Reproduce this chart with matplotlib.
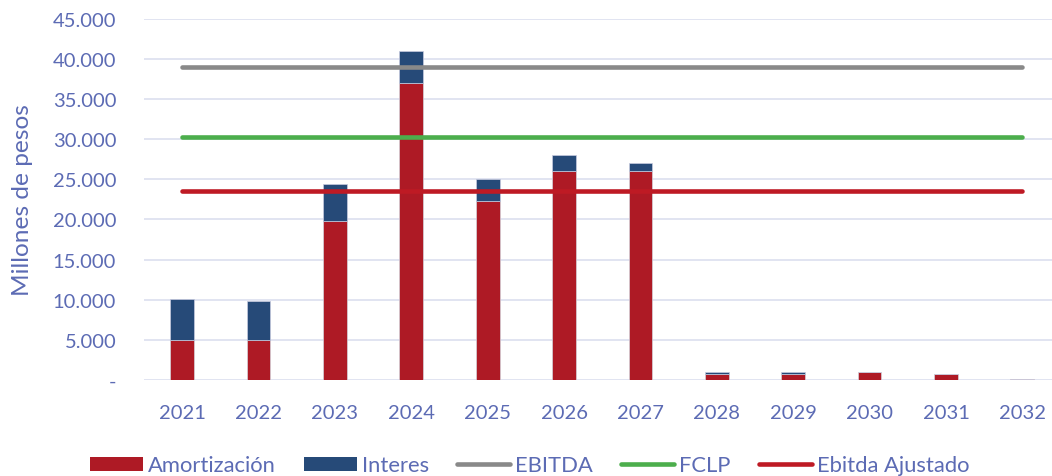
import matplotlib
matplotlib.use("Agg")
import matplotlib.pyplot as plt
from matplotlib.ticker import FuncFormatter, MultipleLocator
from matplotlib.patches import Patch
from matplotlib.lines import Line2D

years = ["2021", "2022", "2023", "2024", "2025", "2026", "2027", "2028", "2029", "2030", "2031", "2032"]
amortizacion = [5000, 5000, 19800, 37000, 22300, 26000, 26050, 780, 780, 960, 710, 150]
interes = [5050, 4850, 4550, 3950, 2720, 2020, 920, 170, 170, 0, 0, 0]
ebitda = [38950, 38950, 38950, 38950, 38950, 38950, 38950, 38950, 38950, 38950, 38950, 38950]
fclp = [30300, 30300, 30300, 30300, 30300, 30300, 30300, 30300, 30300, 30300, 30300, 30300]
ebitda_ajustado = [23480, 23480, 23480, 23480, 23480, 23480, 23480, 23480, 23480, 23480, 23480, 23480]

TXT = "#5C6BB4"
RED = "#AE1A25"
BLUE = "#264A78"
GRAY = "#898989"
GREEN = "#4CAE4C"
LRED = "#BE1A24"
FONT = "Lato"
FS = 14.5
LFS = 15.8

plt.rcParams["font.family"] = [FONT, "DejaVu Sans"]

fig = plt.figure(figsize=(10.52, 4.77), dpi=100)
ax = fig.add_axes([144 / 1052, 96 / 477, (1060.5 - 144) / 1052, (381 - 19.6) / 477])

x = list(range(len(years)))
bw = 0.31
ax.bar(x, amortizacion, width=bw, color=RED, edgecolor="#d4d4dc", linewidth=0.5, zorder=3)
ax.bar(x, interes, width=bw, bottom=amortizacion, color=BLUE, edgecolor="#c8cce0", linewidth=0.5, zorder=3)

lw = 3.3
ax.plot(x, ebitda, color=GRAY, lw=lw, solid_capstyle="round", zorder=4)
ax.plot(x, fclp, color=GREEN, lw=lw, solid_capstyle="round", zorder=4)
ax.plot(x, ebitda_ajustado, color=LRED, lw=lw, solid_capstyle="round", zorder=4)

ax.set_xlim(-0.5, len(years) - 0.5)
ax.set_ylim(0, 45000)
ax.yaxis.set_major_locator(MultipleLocator(5000))
ax.yaxis.set_major_formatter(FuncFormatter(lambda v, p: "-" if v == 0 else f"{int(v):,}".replace(",", ".")))
ax.set_xticks(x)
ax.set_xticklabels(years)
ax.grid(axis="y", color="#D9DCEE", lw=1.1, zorder=0)
ax.set_axisbelow(True)
for s in ax.spines.values():
    s.set_visible(False)
ax.tick_params(axis="both", length=0, colors=TXT, labelsize=FS)
ax.tick_params(axis="y", pad=20)
ax.tick_params(axis="x", pad=17.5)

fig.text(22.5 / 1052, 1 - 200 / 477, "Millones de pesos", rotation=90, ha="center", va="center",
         color=TXT, fontsize=17.6)

handles = [
    Patch(facecolor=RED, edgecolor="none"),
    Patch(facecolor=BLUE, edgecolor="none"),
    Line2D([0], [0], color=GRAY, lw=lw, solid_capstyle="round"),
    Line2D([0], [0], color=GREEN, lw=lw, solid_capstyle="round"),
    Line2D([0], [0], color=LRED, lw=lw, solid_capstyle="round"),
]
labels = ["Amortización", "Interes", "EBITDA", "FCLP", "Ebitda Ajustado"]
leg = fig.legend(handles, labels, loc="center", bbox_to_anchor=(529.5 / 1052, 10.5 / 477), ncol=5,
                 frameon=False, fontsize=LFS, handlelength=2.4, handleheight=0.64,
                 handletextpad=0.23, columnspacing=1.3, labelcolor=TXT, borderpad=0)

fig.savefig("out.png", dpi=100)
